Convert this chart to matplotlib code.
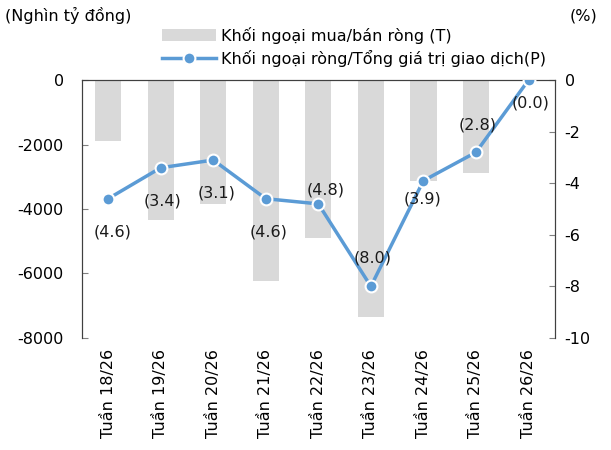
import matplotlib
matplotlib.use('Agg')
import matplotlib.pyplot as plt
import numpy as np

# data
weeks = ['Tuần 18/26', 'Tuần 19/26', 'Tuần 20/26', 'Tuần 21/26', 'Tuần 22/26',
         'Tuần 23/26', 'Tuần 24/26', 'Tuần 25/26', 'Tuần 26/26']
net_buy = [-1880, -4340, -3850, -6230, -4910, -7340, -3120, -2890, 0]   # nghìn tỷ đồng
net_ratio = [-4.6, -3.4, -3.1, -4.6, -4.8, -8.0, -3.9, -2.8, -0.0]    # %
ratio_labels = ['(4.6)', '(3.4)', '(3.1)', '(4.6)', '(4.8)', '(8.0)', '(3.9)', '(2.8)', '(0.0)']

# label offsets in pixels (dx, dy), positive dy = up
label_offsets = [(4, -33), (2, -33), (3, -33), (3, -33), (7, 14), (2, 28), (-1, -18), (2, 27), (2, -23)]

plt.rcParams['font.family'] = 'DejaVu Sans'
plt.rcParams['axes.unicode_minus'] = False
fs = 11.5
bar_color = '#d9d9d9'
line_color = '#5b9bd5'

fig = plt.figure(figsize=(6.11, 4.5), dpi=100)
ax = fig.add_axes([0.134, 0.249, 0.774, 0.573])
ax2 = ax.twinx()

x = np.arange(len(weeks))
ax.bar(x, net_buy, width=0.5, color=bar_color, zorder=1, label='Khối ngoại mua/bán ròng (T)')
ax.set_ylim(-8000, 0)
ax.set_yticks(np.arange(-8000, 1, 2000))
ax.set_xlim(-0.5, len(weeks) - 0.5)
ax.set_xticks(x)
ax.set_xticklabels(weeks, rotation=90, fontsize=fs)
ax.tick_params(axis='x', length=0, pad=8)
ax.tick_params(axis='y', direction='in', length=4, labelsize=fs, pad=13, color='#808080')

ax2.plot(x, net_ratio, color=line_color, lw=2.5, marker='o', ms=8.5,
         mfc=line_color, mec='white', mew=1.5, zorder=3,
         label='Khối ngoại ròng/Tổng giá trị giao dịch(P)')
ax2.set_ylim(-10, 0)
ax2.set_yticks(np.arange(-10, 1, 2))
ax2.tick_params(axis='y', direction='in', length=4, labelsize=fs, pad=7, color='#808080')

for xi, yi, lab, (dx, dy) in zip(x, net_ratio, ratio_labels, label_offsets):
    ax2.annotate(lab, (xi, yi), xytext=(dx * 0.72, dy * 0.72), textcoords='offset points',
                 ha='center', va='center', fontsize=fs, color='#1a1a1a', zorder=4)

for a in (ax, ax2):
    a.spines['bottom'].set_visible(False)
    a.spines['top'].set_color('#404040')
    a.spines['left'].set_color('#404040')
    a.spines['right'].set_color('#404040')
ax.set_zorder(ax2.get_zorder() - 1)
ax2.patch.set_visible(False)

fig.text(0.008, 0.965, '(Nghìn tỷ đồng)', fontsize=fs, va='center', ha='left')
fig.text(0.978, 0.965, '(%)', fontsize=fs, va='center', ha='right')

h1, l1 = ax.get_legend_handles_labels()
h2, l2 = ax2.get_legend_handles_labels()
fig.legend(h1 + h2, l1 + l2, loc='center left', bbox_to_anchor=(0.255, 0.896),
           frameon=False, fontsize=fs, handlelength=3.4, handletextpad=0.3,
           labelspacing=0.4, borderaxespad=0)

fig.savefig('out.png', dpi=100)
